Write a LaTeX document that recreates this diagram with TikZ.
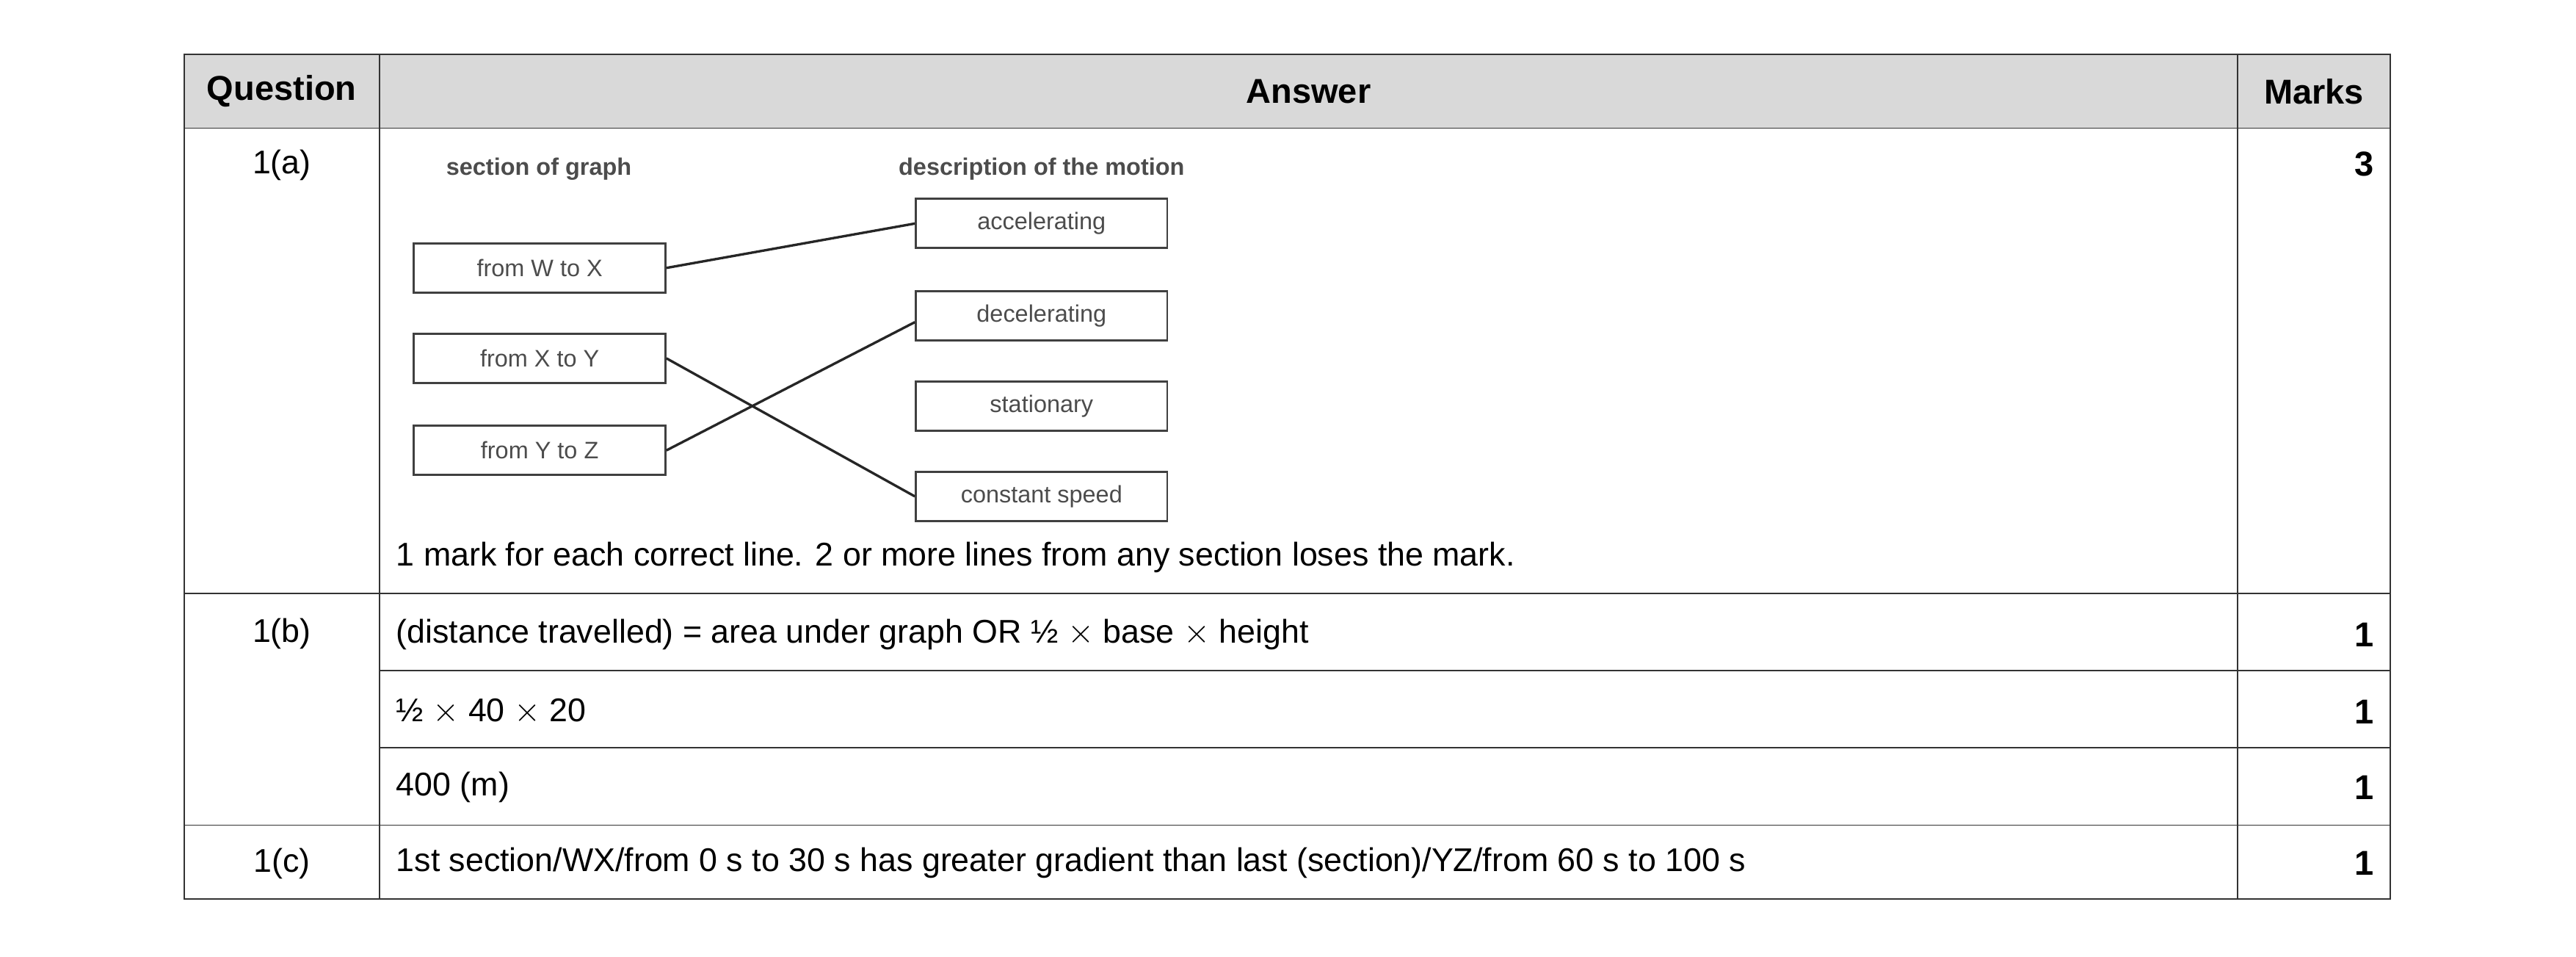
\documentclass[tikz,border=0pt]{standalone}
\usepackage{fontspec}
\setmainfont{Liberation Sans}
\begin{document}
\begin{tikzpicture}[x=1pt,y=-1pt,
  body/.style={font=\fontsize{20}{24}\selectfont,inner sep=0},
  hd/.style={font=\fontsize{21}{24}\selectfont\bfseries,inner sep=0},
  bx/.style={draw=black!75,line width=1.3pt,minimum width=153pt,minimum height=30pt,inner sep=0,font=\fontsize{14.5}{17}\selectfont,text=black!70},
  lab/.style={font=\fontsize{14.5}{17}\selectfont\bfseries,text=black!70,inner sep=0},
  ln/.style={line width=1.5pt,black!85},
  grid/.style={line width=0.8pt,black!80}]
\useasboundingbox (0,0) rectangle (1568,582);
\fill[black!15] (112,33) rectangle (1455,78);
\draw[grid] (112,33) rectangle (1455,547);
\draw[grid] (112,78) -- (1455,78);
\draw[grid] (112,361) -- (1455,361);
\draw[grid] (231,408) -- (1455,408);
\draw[grid] (231,455) -- (1455,455);
\draw[grid] (112,502) -- (1455,502);
\draw[grid] (231,33) -- (231,547);
\draw[grid] (1362,33) -- (1362,547);
\node[hd] (hq) at (171.5,55.5) {Question};
\node[hd] (ha) at (796.5,55.5) {Answer};
\node[hd] (hm) at (1408.5,55.5) {Marks};
\node[body,anchor=north] (qa) at (171.5,91) {1(a)};
\node[body,anchor=north] (qb) at (171.5,376) {1(b)};
\node[body,anchor=north] (qc) at (171.5,516) {1(c)};
\node[lab] (l1) at (328,103) {section of graph};
\node[lab] (l2) at (634,103) {description of the motion};
\node[bx] (wx) at (328.5,163) {from W to X};
\node[bx] (xy) at (328.5,218) {from X to Y};
\node[bx] (yz) at (328.5,274) {from Y to Z};
\node[bx] (acc) at (634,136) {accelerating};
\node[bx] (dec) at (634,192) {decelerating};
\node[bx] (sta) at (634,247) {stationary};
\node[bx] (con) at (634,302) {constant speed};
\draw[ln] (wx.east) -- (acc.west);
\draw[ln] (xy.east) -- (con.west);
\draw[ln] (yz.east) -- ([yshift=-4pt]dec.west);
\node[body,anchor=west] (t1) at (241,339) {1 mark for each correct line. 2 or more lines from any section loses the mark.};
\node[body,anchor=west] (t2) at (241,386) {(distance travelled) = area under graph OR \textonehalf\ $\times$ base $\times$ height};
\node[body,anchor=west] (t3) at (241,433) {\textonehalf\ $\times$ 40 $\times$ 20};
\node[body,anchor=west] (t4) at (241,479) {400 (m)};
\node[body,anchor=west] (t5) at (241,525) {1st section/WX/from 0 s to 30 s has greater gradient than last (section)/YZ/from 60 s to 100 s};
\node[hd,anchor=east] (m1) at (1445,100) {3};
\node[hd,anchor=east] (m2) at (1445,386) {1};
\node[hd,anchor=east] (m3) at (1445,433) {1};
\node[hd,anchor=east] (m4) at (1445,479) {1};
\node[hd,anchor=east] (m5) at (1445,525) {1};
\end{tikzpicture}
\end{document}
